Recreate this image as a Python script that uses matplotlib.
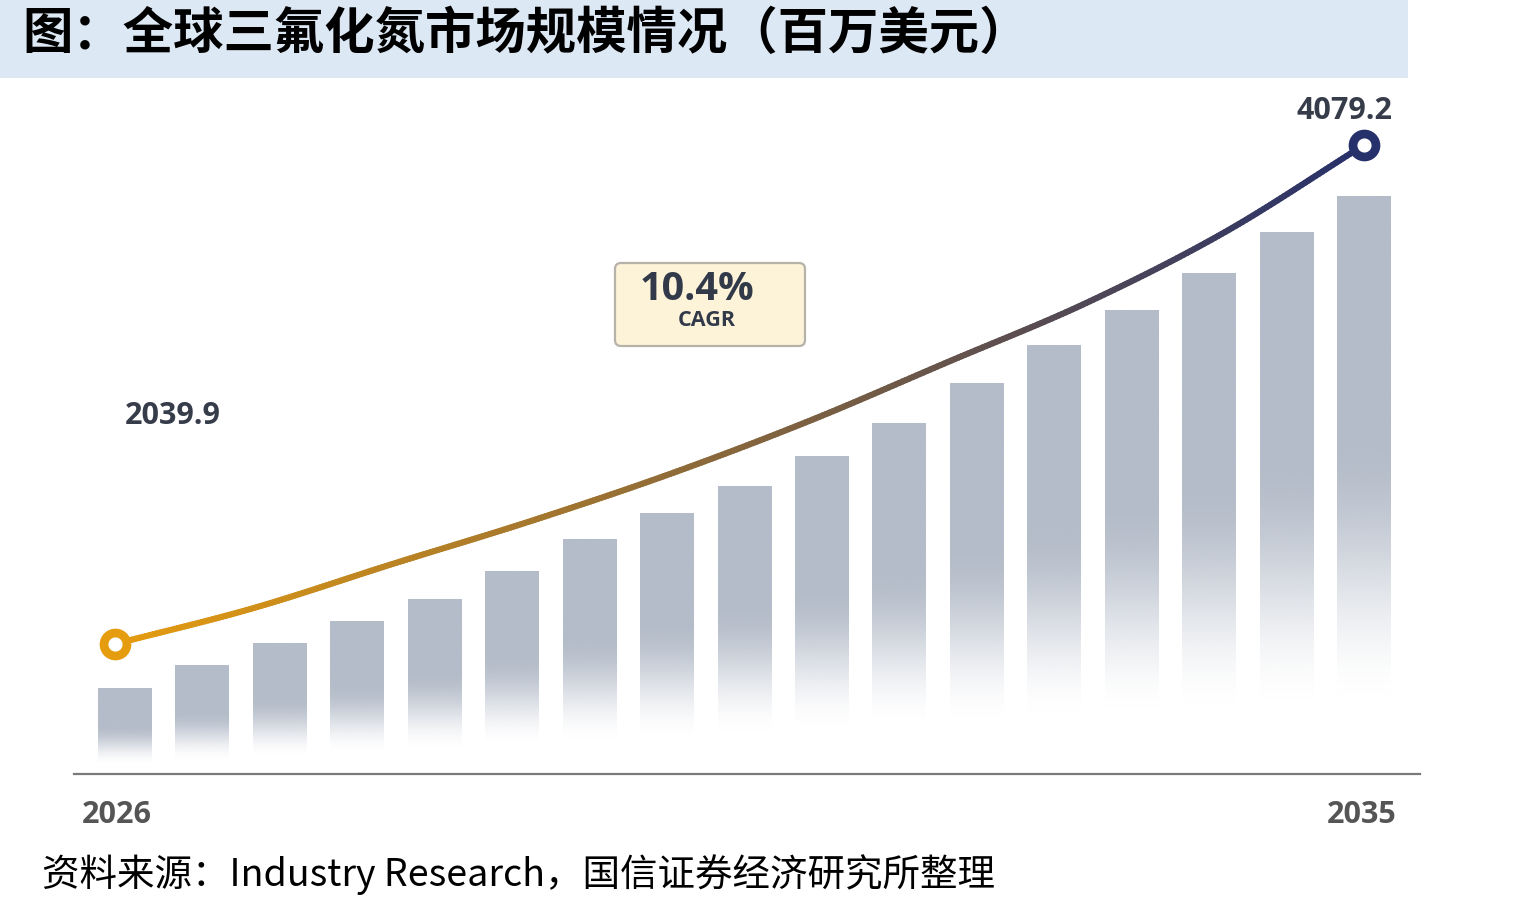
import numpy as np
import matplotlib
matplotlib.use("Agg")
import matplotlib.pyplot as plt
from matplotlib.collections import LineCollection
from matplotlib.patches import Rectangle, FancyBboxPatch
from matplotlib.colors import to_rgb

# ---------------- data ----------------
title = "图：全球三氟化氮市场规模情况（百万美元）"
source = "资料来源：Industry Research，国信证券经济研究所整理"
years = [2026, 2027, 2028, 2029, 2030, 2031, 2032, 2033, 2034, 2035]
market = [2039.9, 2187, 2367, 2543, 2735, 2951, 3192, 3434, 3724, 4079.2]
bar_values = [1860, 1950, 2040, 2134, 2220, 2334, 2465, 2575, 2682, 2804,
              2939, 3107, 3258, 3401, 3552, 3724, 3867]
cagr_text = "10.4%"
cagr_label = "CAGR"
start_label = "2039.9"
end_label = "4079.2"
year_labels = ["2026", "2035"]

# ---------------- layout helpers ----------------
W, H = 1530, 907
px_per_year = (1364 - 115) / 9.0
val_per_px = (market[-1] - market[0]) / (644 - 145)


def v_of_py(py):
    return market[0] + (644 - py) * val_per_px


def yr_of_px(px):
    return years[0] + (px - 115) / px_per_year


fig = plt.figure(figsize=(W / 100, H / 100), dpi=100)

# background / decoration axes in pixel coordinates
bg = fig.add_axes([0, 0, 1, 1], zorder=0)
bg.set_xlim(0, W)
bg.set_ylim(H, 0)
bg.axis("off")
bg.add_patch(Rectangle((0, 0), 1408, 78, facecolor="#DDE8F5", edgecolor="none"))
bg.text(22, 34, title, fontsize=36.3, fontweight="heavy", family=["Noto Sans CJK SC", "DejaVu Sans"],
        va="center", ha="left", color="#000000")
bg.text(42, 875, source, fontsize=27, family=["Noto Sans CJK SC", "DejaVu Sans"],
        va="center", ha="left", color="#000000")

# CAGR box
bg.add_patch(FancyBboxPatch((615, 263), 190, 83, boxstyle="round,pad=0,rounding_size=6",
                            facecolor="#FDF3D9", edgecolor="#B5B2AA", linewidth=1.6))
bg.text(697, 289, cagr_text, fontsize=28.5, fontweight="bold", family="Open Sans",
        ha="center", va="center", color="#323A4A")
bg.text(707, 321, cagr_label, fontsize=15.5, fontweight="bold", family="Open Sans",
        ha="center", va="center", color="#323A4A")

# main axes
left_px, right_px, top_px, base_px = 74, 1420, 90, 774
ax = fig.add_axes([left_px / W, 1 - base_px / H, (right_px - left_px) / W, (base_px - top_px) / H],
                  zorder=1)
ax.patch.set_alpha(0)
ax.set_xlim(yr_of_px(left_px), yr_of_px(right_px))
ax.set_ylim(v_of_py(base_px), v_of_py(top_px))
for s in ["left", "right", "top"]:
    ax.spines[s].set_visible(False)
ax.spines["bottom"].set_color("#7A7A7A")
ax.spines["bottom"].set_linewidth(1.6)
ax.set_xticks([])
ax.set_yticks([])

# gradient bars
bar_rgb = np.array(to_rgb("#B4BCC9"))
n = len(bar_values)
bw = 54 / px_per_year
for i, bv in enumerate(bar_values):
    cx = yr_of_px(125 + i * (1364 - 125) / (n - 1))
    bottom_py = 765 + (705 - 765) * i / (n - 1)
    vb = v_of_py(bottom_py)
    N = 200
    t = np.linspace(0, 1, N)  # 0 bottom -> 1 top
    s = np.clip(t / 0.52, 0, 1)
    alpha = s * s * (3 - 2 * s)
    img = np.zeros((N, 1, 4))
    img[:, 0, :3] = bar_rgb
    img[:, 0, 3] = alpha
    ax.imshow(img, extent=[cx - bw / 2, cx + bw / 2, vb, bv], origin="lower",
              aspect="auto", interpolation="bilinear", zorder=2)
ax.set_xlim(yr_of_px(left_px), yr_of_px(right_px))
ax.set_ylim(v_of_py(base_px), v_of_py(top_px))

# smooth (Catmull-Rom rendered) gradient line through the data points
P = np.column_stack([np.array(years, float), np.array(market, float)])
Pe = np.vstack([2 * P[0] - P[1], P, 2 * P[-1] - P[-2]])
curve = []
for k in range(1, len(Pe) - 2):
    p0, p1, p2, p3 = Pe[k - 1], Pe[k], Pe[k + 1], Pe[k + 2]
    for u in np.linspace(0, 1, 40, endpoint=False):
        u2, u3 = u * u, u * u * u
        pt = 0.5 * ((2 * p1) + (-p0 + p2) * u + (2 * p0 - 5 * p1 + 4 * p2 - p3) * u2
                    + (-p0 + 3 * p1 - 3 * p2 + p3) * u3)
        curve.append(pt)
curve.append(P[-1])
curve = np.array(curve)
c0 = np.array(to_rgb("#E69C0F"))
c1 = np.array(to_rgb("#26306A"))
pts = curve.reshape(-1, 1, 2)
segs = np.concatenate([pts[:-1], pts[1:]], axis=1)
mid = (curve[:-1, 0] + curve[1:, 0]) / 2
frac = (mid - years[0]) / (years[-1] - years[0])
cols = c0[None, :] * (1 - frac[:, None]) + c1[None, :] * frac[:, None]
lc = LineCollection(segs, colors=cols, linewidths=4.4, capstyle="round", joinstyle="round", zorder=3)
ax.add_collection(lc)

ax.plot([years[0]], [market[0]], marker="o", ms=16.5, mfc="white", mec="#E69C0F", mew=6.3, zorder=4,
        clip_on=False)
ax.plot([years[-1]], [market[-1]], marker="o", ms=16.5, mfc="white", mec="#26306A", mew=6.3, zorder=4,
        clip_on=False)

# value labels
ax.annotate(start_label, (years[0], market[0]), xytext=(58 / 1.389, 228 / 1.389),
            textcoords="offset points", ha="center", va="center", fontsize=22,
            fontweight="bold", family="Open Sans", color="#363C4A")
ax.annotate(end_label, (years[-1], market[-1]), xytext=(-20 / 1.389, 34 / 1.389),
            textcoords="offset points", ha="center", va="center", fontsize=22,
            fontweight="bold", family="Open Sans", color="#363C4A")

# year labels
ax.annotate(year_labels[0], (years[0], ax.get_ylim()[0]), xytext=(2 / 1.389, -41 / 1.389),
            textcoords="offset points", ha="center", va="center", fontsize=22,
            fontweight="bold", family="Open Sans", color="#555555", annotation_clip=False)
ax.annotate(year_labels[1], (years[-1], ax.get_ylim()[0]), xytext=(-2 / 1.389, -41 / 1.389),
            textcoords="offset points", ha="center", va="center", fontsize=22,
            fontweight="bold", family="Open Sans", color="#555555", annotation_clip=False)

fig.savefig("out.png", dpi=100, facecolor="white")
